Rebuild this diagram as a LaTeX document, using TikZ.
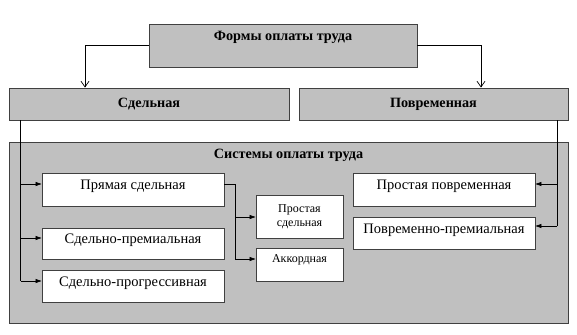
\documentclass[tikz,border=0pt]{standalone}
\usepackage{fontspec}
\setmainfont{Liberation Serif}
\usepackage{tikz}
\usepackage{xcolor}
\usetikzlibrary{arrows.meta,positioning}

\definecolor{boxgray}{HTML}{C0C0C0}
\definecolor{edgegray}{HTML}{404040}

\begin{document}
\begin{tikzpicture}[x=1pt, y=-1pt,
    graybox/.style={draw=edgegray, fill=boxgray, rectangle, inner sep=0pt, line width=0.9pt},
    whitebox/.style={draw=edgegray, fill=white, rectangle, inner sep=0pt, line width=0.9pt, font=\fontsize{14.5}{16}\selectfont},
    smallbox/.style={whitebox, font=\fontsize{12}{13.5}\selectfont, align=center},
    head/.style={font=\bfseries\fontsize{14.2}{16}\selectfont},
    down/.style={-{Straight Barb[angle=70:7pt]}, line width=0.7pt},
    feed/.style={-{Triangle[length=6pt,width=4pt]}, line width=0.7pt}]
                \useasboundingbox (0,0) rectangle (577,334);

                % Form nodes
                \node[graybox, head, minimum width=268pt, minimum height=43pt, text height=9pt, text depth=18pt] (forms) at (283,45.5) {Формы оплаты труда};
                \node[graybox, head, minimum width=280pt, minimum height=32pt] (sdel) at (149,104) {Сдельная};
                \node[graybox, head, minimum width=269pt, minimum height=32pt] (povr) at (433.5,104) {Повременная};

                % System frame
                \node[graybox, minimum width=559pt, minimum height=181pt] (sys) at (288.5,232.5) {};
                \node[head, inner sep=0pt] (systitle) at (288.5,155) {Системы оплаты труда};

                % Piece-rate systems
                \node[whitebox, minimum width=182pt, minimum height=33pt, text height=9pt, text depth=9pt] (pryam) at (133,189.5) {Прямая сдельная};
                \node[whitebox, minimum width=182pt, minimum height=31pt, text height=9pt, text depth=9pt] (prem) at (133,243.5) {Сдельно-премиальная};
                \node[whitebox, minimum width=182pt, minimum height=32pt, text height=9pt, text depth=9pt] (progr) at (133,286) {Сдельно-прогрессивная};
                \node[smallbox, minimum width=87pt, minimum height=43pt] (prostsd) at (299.5,216.5) {Простая\\сдельная};
                \node[smallbox, minimum width=87pt, minimum height=33pt, text height=8pt, text depth=13pt] (akkord) at (299.5,264.5) {Аккордная};

                % Time-rate systems
                \node[whitebox, minimum width=182pt, minimum height=33pt, text height=9pt, text depth=9pt] (prostpv) at (444,189.5) {Простая повременная};
                \node[whitebox, minimum width=182pt, minimum height=32pt, text height=9pt, text depth=9pt] (pvprem) at (444,233) {Повременно-премиальная};

                % Edges
                \draw[down] (forms.west |- 0,45) -| (sdel.north -| 85,0);
                \draw[down] (forms.east |- 0,45) -| (povr.north -| 481,0);
                \draw[line width=0.7pt] (sdel.south -| 20.5,0) -- (20.5,281);
                \draw[feed] (20.5,184) -- (pryam.west |- 0,184);
                \draw[feed] (20.5,238) -- (prem.west |- 0,238);
                \draw[feed] (20.5,281) -- (progr.west |- 0,281);
                \draw[line width=0.7pt] (pryam.east |- 0,184) -| (235,259);
                \draw[feed] (235,217) -- (prostsd.west |- 0,217);
                \draw[feed] (235,259) -- (akkord.west |- 0,259);
                \draw[line width=0.7pt] (povr.south -| 557,0) -- (557,226);
                \draw[feed] (557,184) -- (prostpv.east |- 0,184);
                \draw[feed] (557,226) -- (pvprem.east |- 0,226);
            \end{tikzpicture}
\end{document}
